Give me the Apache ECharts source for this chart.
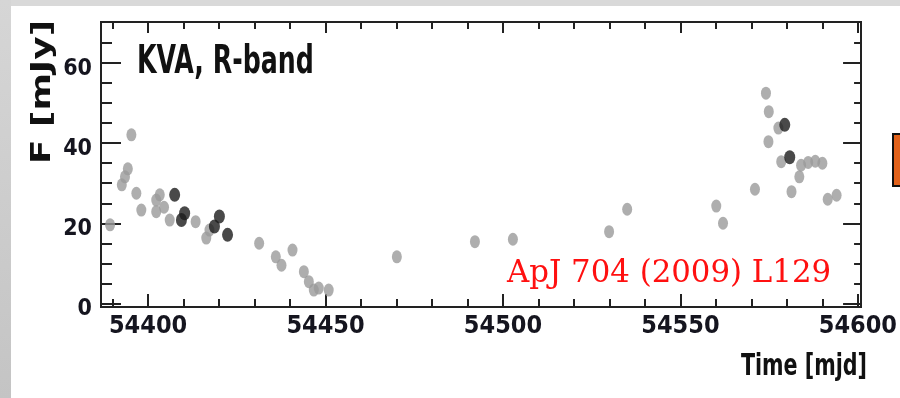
<!DOCTYPE html>
<html>
<head>
<meta charset="utf-8">
<script src="https://cdn.jsdelivr.net/npm/echarts@6/dist/echarts.min.js"></script>
<style>html,body{margin:0;padding:0;background:#fff}#c{width:900px;height:398px}</style>
</head>
<body>
<div id="c"></div>
<script>
// ---- data (MJD, flux mJy) ----
const grayTime = [54389.3,54392.6,54393.5,54394.3,54395.3,54396.7,54398.1,54402.3,54402.3,54403.3,54404.5,54406.1,54413.4,54416.4,54417.3,54431.3,54436.0,54437.6,54440.7,54443.9,54445.3,54446.7,54448.1,54450.9,54470.1,54492.1,54502.8,54529.9,54535.0,54560.1,54562.0,54571.0,54574.1,54574.9,54574.8,54577.6,54578.4,54581.3,54583.5,54584.0,54586.0,54588.0,54590.0,54591.5,54594.0];
const grayFlux = [19.6,29.6,31.6,33.6,42.1,27.5,23.3,25.8,22.9,27.1,24.0,20.8,20.4,16.3,18.3,15.0,11.6,9.5,13.3,7.9,5.4,3.3,3.8,3.3,11.6,15.4,16.0,17.9,23.5,24.3,20.0,28.5,52.5,47.9,40.4,43.8,35.4,27.9,31.6,34.5,35.2,35.5,35.0,26.0,27.0];
const blackTime = [54407.5,54409.4,54410.3,54418.7,54420.1,54422.4,54579.4,54580.8];
const blackFlux = [27.1,20.8,22.5,19.2,21.7,17.1,44.6,36.5];

const xMajorTicks = [54400,54450,54500,54550,54600];
const xMinorTicks = [54390,54400,54410,54420,54430,54440,54450,54460,54470,54480,54490,54500,54510,54520,54530,54540,54550,54560,54570,54580,54590,54600];
const yMajorTicks = [0,20,40,60];
const yMinorTicks = [0,5,10,15,20,25,30,35,40,45,50,55,60,65];
const xRange = [54386.74, 54600.9];
const yRange = [-0.93, 70.3];

const titleText = 'KVA, R-band';
const xTitle = 'Time [mjd]';
const yTitle = 'F [mJy]';
const refText = 'ApJ 704 (2009) L129';

const pairs = (a, b) => a.map((v, i) => [v, b[i]]);
const axisCol = '#222';
const labFont = "'Liberation Sans Narrow','DejaVu Sans Condensed','DejaVu Sans',sans-serif";

function xAx(pos, ticks, len, labels) {
  return {
    type: 'value', position: pos, min: xRange[0], max: xRange[1],
    axisLine: { show: true, onZero: false, lineStyle: { color: axisCol, width: 2 } },
    axisTick: { show: true, inside: true, length: len, customValues: ticks, lineStyle: { color: axisCol, width: 2 } },
    axisLabel: labels ? { show: true, customValues: xMajorTicks, margin: 7, fontFamily: labFont, fontWeight: 'bold', fontSize: 25, color: '#15151f', formatter: v => String(v) } : { show: false },
    splitLine: { show: false }
  };
}
function yAx(pos, ticks, len, labels) {
  return {
    type: 'value', position: pos, min: yRange[0], max: yRange[1],
    axisLine: { show: true, onZero: false, lineStyle: { color: axisCol, width: 2 } },
    axisTick: { show: true, inside: true, length: len, customValues: ticks, lineStyle: { color: axisCol, width: 2 } },
    axisLabel: labels ? { show: true, customValues: yMajorTicks, margin: 9, verticalAlign: 'top', lineHeight: 12, fontFamily: labFont, fontWeight: 'bold', fontSize: 23, color: '#15151f', formatter: v => String(v) } : { show: false },
    splitLine: { show: false }
  };
}

const chart = echarts.init(document.getElementById('c'), null, { renderer: 'canvas' });
chart.setOption({
  backgroundColor: '#ffffff',
  animation: false,
  grid: { left: 101, top: 22, right: 35, bottom: 91, containLabel: false },
  xAxis: [
    xAx('bottom', xMinorTicks, 8, false),
    xAx('bottom', xMajorTicks, 13, true),
    xAx('top', xMinorTicks, 7, false),
    xAx('top', xMajorTicks, 11, false)
  ],
  yAxis: [
    yAx('left', yMinorTicks, 11, false),
    yAx('left', yMajorTicks, 20, true),
    yAx('right', yMinorTicks, 7, false),
    yAx('right', yMajorTicks, 18, false)
  ],
  series: [
    { type: 'scatter', xAxisIndex: 0, yAxisIndex: 0, data: pairs(grayTime, grayFlux), symbol: 'circle', symbolSize: [10, 13], itemStyle: { color: '#9a9a9a' }, z: 3 },
    { type: 'scatter', xAxisIndex: 0, yAxisIndex: 0, data: pairs(blackTime, blackFlux), symbol: 'circle', symbolSize: [11, 14], itemStyle: { color: '#1b1b1b' }, z: 4 }
  ],
  graphic: [
    { type: 'rect', shape: { x: 0, y: 0, width: 900, height: 6 }, style: { fill: '#d9d9d9' }, silent: true },
    { type: 'rect', shape: { x: 0, y: 0, width: 11, height: 398 },
      style: { fill: new echarts.graphic.LinearGradient(0, 0, 0, 1, [{ offset: 0, color: '#d6d6d6' }, { offset: 1, color: '#c4c4c4' }]) }, silent: true },
    { type: 'rect', shape: { x: 893, y: 134, width: 12, height: 52 }, style: { fill: '#e2621b', stroke: '#111', lineWidth: 2 }, silent: true },
    { type: 'text', x: 137, y: 63, scaleX: 0.72, style: { text: titleText, fontFamily: labFont, fontWeight: 'bold', fontSize: 39, fill: '#111', verticalAlign: 'middle' }, silent: true },
    { type: 'text', x: 867, y: 367, scaleX: 0.74, style: { text: xTitle, fontFamily: labFont, fontWeight: 'bold', fontSize: 31, fill: '#111', align: 'right', verticalAlign: 'middle' }, silent: true },
    { type: 'text', x: 43, y: 92, rotation: Math.PI / 2, scaleX: 1.48, style: { text: yTitle, fontFamily: labFont, fontWeight: 'bold', fontSize: 27, fill: '#111', align: 'center', verticalAlign: 'middle' }, silent: true },
    { type: 'text', x: 507, y: 274, style: { text: refText, fontFamily: "'DejaVu Serif',serif", fontSize: 30.8, fill: '#ff1010', verticalAlign: 'middle' }, silent: true }
  ]
});
</script>
</body>
</html>
